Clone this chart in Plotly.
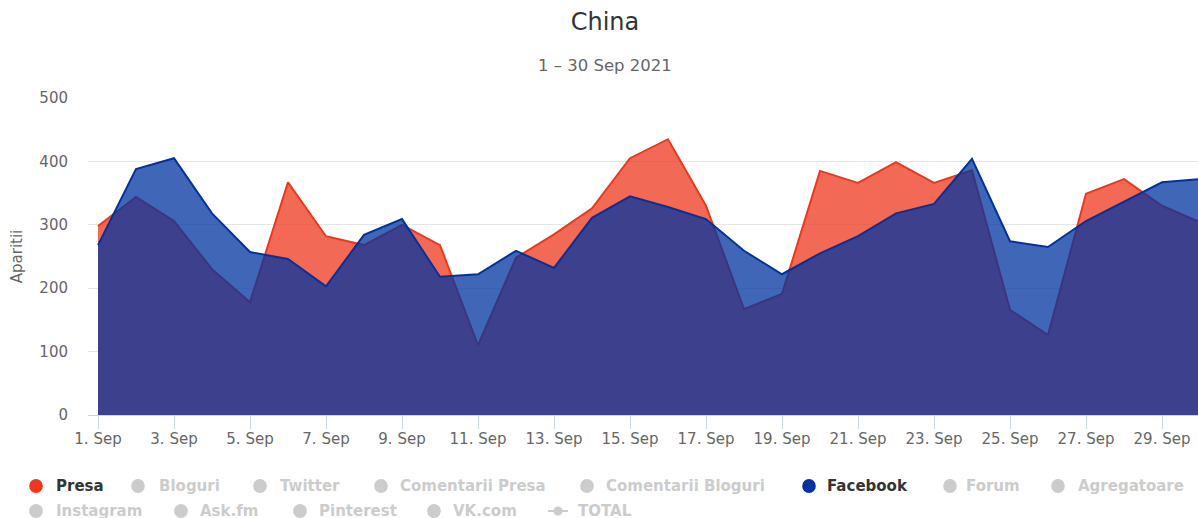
import plotly.graph_objects as go
import pandas as pd

dates = pd.date_range("2021-09-01", "2021-09-30", freq="D")
presa = [298, 344, 306, 230, 178, 367, 282, 268, 300, 268, 110, 248, 285, 326, 405,
         435, 330, 167, 191, 385, 366, 399, 366, 386, 166, 126, 349, 372, 330, 304]
facebook = [268, 388, 405, 318, 257, 246, 203, 284, 309, 218, 222, 259, 232, 311, 345,
            328, 309, 259, 222, 255, 282, 318, 333, 404, 274, 265, 306, 336, 367, 372]

legend_row1 = ["Presa", "Bloguri", "Twitter", "Comentarii Presa", "Comentarii Bloguri",
               "Facebook", "Forum", "Agregatoare"]
legend_row2 = ["Instagram", "Ask.fm", "Pinterest", "VK.com", "TOTAL"]

RED = "#ee381c"
BLUE = "#0033a0"
active = {"Presa": RED, "Facebook": BLUE}

FW, FH = 1198, 518
L, R_ = 88, 1198      # plot area left/right (px)
T, B_ = 98, 415       # plot area top/bottom (px)
W, H = R_ - L, B_ - T

DAY_PX = 38.0
day = pd.Timedelta(days=1)
x_start = dates[0] - day * ((98 - L) / DAY_PX)
x_end = dates[0] + day * ((R_ - 98) / DAY_PX)

fig = go.Figure()
fig.add_trace(go.Scatter(x=dates, y=presa, name="Presa", mode="lines",
                         line=dict(color=RED, width=2), fill="tozeroy",
                         fillcolor="rgba(238,56,28,0.75)", showlegend=False))
fig.add_trace(go.Scatter(x=dates, y=facebook, name="Facebook", mode="lines",
                         line=dict(color=BLUE, width=2), fill="tozeroy",
                         fillcolor="rgba(0,51,160,0.75)", showlegend=False))

def px(xw):
    return (xw - L) / W
def py(yw):
    return (B_ - yw) / H

FONT = "DejaVu Sans, Verdana, sans-serif"
shapes = []
annotations = []

pos1 = [(36, 54), (138, 157), (260, 278), (381, 398), (587, 604), (809, 825), (950, 964), (1058, 1076)]
pos2 = [(36, 54), (181, 198), (300, 317), (434, 451), (558, 576)]
for row, pos, yrow in ((legend_row1, pos1, 486), (legend_row2, pos2, 511)):
    for name, (cx, tx) in zip(row, pos):
        col = active.get(name, "#cccccc")
        tcol = "#333333" if name in active else "#cccccc"
        if name == "TOTAL":
            shapes.append(dict(type="line", xref="paper", yref="paper",
                               x0=px(cx - 10), x1=px(cx + 10), y0=py(yrow), y1=py(yrow),
                               line=dict(color=col, width=2)))
            shapes.append(dict(type="circle", xref="paper", yref="paper",
                               xsizemode="pixel", ysizemode="pixel",
                               xanchor=px(cx), yanchor=py(yrow),
                               x0=-4.5, x1=4.5, y0=-4.5, y1=4.5,
                               fillcolor=col, line=dict(width=0)))
        else:
            shapes.append(dict(type="circle", xref="paper", yref="paper",
                               xsizemode="pixel", ysizemode="pixel",
                               xanchor=px(cx), yanchor=py(yrow),
                               x0=-6.8, x1=6.8, y0=-7, y1=7,
                               fillcolor=col, line=dict(width=0)))
        annotations.append(dict(text="<b>%s</b>" % name, xref="paper", yref="paper",
                                x=px(tx), y=py(yrow), xanchor="left", yanchor="middle",
                                showarrow=False,
                                font=dict(size=15, color=tcol, family=FONT)))

annotations.append(dict(text="1 \u2013 30 Sep 2021", xref="paper", yref="paper",
                        x=px(605), y=py(66), xanchor="center", yanchor="middle",
                        showarrow=False, font=dict(size=16.5, color="#666666", family=FONT)))

fig.update_layout(
    width=FW, height=FH,
    margin=dict(l=L, r=FW - R_, t=T, b=FH - B_),
    paper_bgcolor="white", plot_bgcolor="white",
    title=dict(text="China", xref="paper", x=px(605), xanchor="center",
               yref="container", y=1 - 22 / FH, yanchor="middle",
               font=dict(size=24, color="#333333", family=FONT)),
    showlegend=False,
    shapes=shapes,
    annotations=annotations,
    font=dict(family=FONT),
    xaxis=dict(type="date", range=[x_start, x_end],
               tick0=dates[0], dtick=2 * 86400000, tickformat="%-d. %b",
               ticks="outside", ticklen=13, tickcolor="#ccd6eb", tickwidth=1,
               showline=True, linecolor="#ccd6eb", linewidth=1,
               showgrid=False, zeroline=False, ticklabelstandoff=-3,
               tickfont=dict(size=15, color="#666666", family=FONT)),
    yaxis=dict(range=[0, 500], dtick=100, showgrid=True, gridcolor="#e6e6e6",
               zeroline=False, showline=False, ticks="", ticklabelstandoff=19,
               tickfont=dict(size=15, color="#666666", family=FONT),
               title=dict(text="Aparitii", font=dict(size=15, color="#666666", family=FONT),
                          standoff=13)),
)

fig.write_html("out.html",
               config={"displayModeBar": False},
               post_script="document.body.style.margin='0';"
                           "document.body.style.overflow='hidden';")
